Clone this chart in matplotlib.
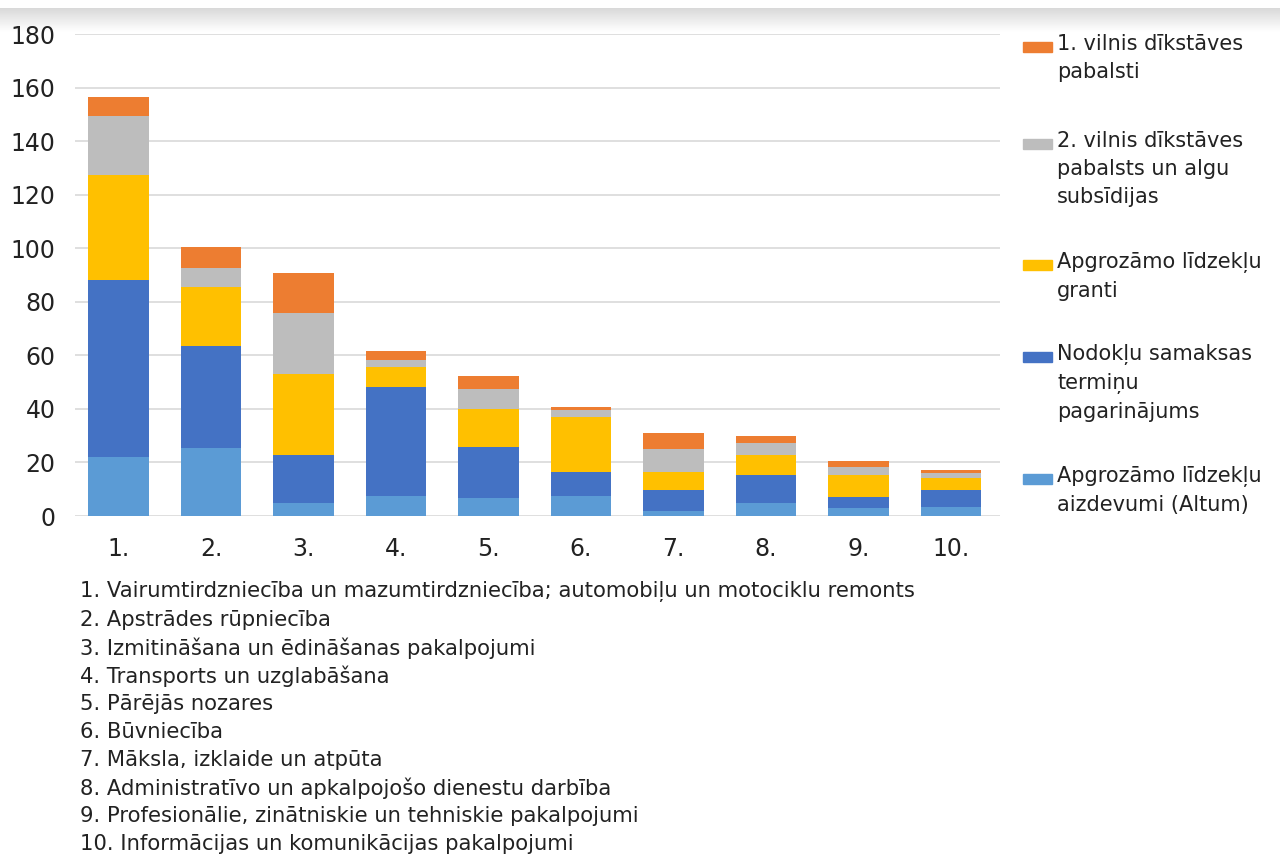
import numpy as np
import matplotlib.pyplot as plt
from matplotlib.patches import Rectangle

plt.rcParams['font.family'] = ['DejaVu Sans']

categories = ['1.', '2.', '3.', '4.', '5.', '6.', '7.', '8.', '9.', '10.']

# stacked from bottom to top
altum_loans = [22, 25.5, 4.7, 7.6, 6.6, 7.6, 2.0, 4.7, 2.9, 3.5]
tax_deferral = [66, 37.8, 18.1, 40.7, 19.3, 9.0, 7.7, 10.6, 4.3, 6.2]
grants = [39.5, 22.4, 30.3, 7.5, 14.0, 20.3, 6.9, 7.5, 8.1, 4.4]
wave2 = [22, 6.9, 22.6, 2.5, 7.4, 2.7, 8.3, 4.4, 3.1, 1.9]
wave1 = [7, 7.7, 15.0, 3.5, 5.0, 1.2, 6.2, 2.7, 2.1, 1.2]

series = [altum_loans, tax_deferral, grants, wave2, wave1]
colors = ['#5B9BD5', '#4472C4', '#FFC000', '#BDBDBD', '#ED7D31']
labels = ['Apgrozāmo līdzekļu\naizdevumi (Altum)',
          'Nodokļu samaksas\ntermiņu\npagarinājums',
          'Apgrozāmo līdzekļu\ngranti',
          '2. vilnis dīkstāves\npabalsts un algu\nsubsīdijas',
          '1. vilnis dīkstāves\npabalsti']

sectors = ['1. Vairumtirdzniecība un mazumtirdzniecība; automobiļu un motociklu remonts',
           '2. Apstrādes rūpniecība',
           '3. Izmitināšana un ēdināšanas pakalpojumi',
           '4. Transports un uzglabāšana',
           '5. Pārējās nozares',
           '6. Būvniecība',
           '7. Māksla, izklaide un atpūta',
           '8. Administratīvo un apkalpojošo dienestu darbība',
           '9. Profesionālie, zinātniskie un tehniskie pakalpojumi',
           '10. Informācijas un komunikācijas pakalpojumi']

fig = plt.figure(figsize=(12.8, 8.56), dpi=100)

# grey band at the top of the screenshot
band = fig.add_axes([0, 1 - 32 / 856, 1, 24 / 856])
grad = np.linspace(0.85, 1.0, 50).reshape(-1, 1)
band.imshow(grad, aspect='auto', cmap='gray', vmin=0, vmax=1,
            extent=[0, 1, 0, 1], origin='upper')
band.axis('off')

ax = fig.add_axes([75 / 1280, 1 - 516 / 856, 925 / 1280, 482 / 856])
x = np.arange(len(categories))
bottom = np.zeros(len(categories))
for vals, c in zip(series, colors):
    ax.bar(x, vals, width=0.65, bottom=bottom, color=c, zorder=3)
    bottom += np.array(vals)

ax.set_ylim(0, 180)
ax.set_xlim(-0.47, 9.53)
ax.set_yticks(range(0, 181, 20))
ax.set_xticks(x)
ax.set_xticklabels(categories)
ax.yaxis.grid(True, color='#D9D9D9', linewidth=1.2, zorder=0)
for s in ax.spines.values():
    s.set_visible(False)
ax.tick_params(length=0, labelsize=17, colors='#222222')
ax.tick_params(axis='y', pad=14)
ax.tick_params(axis='x', pad=15)

# legend, drawn top to bottom
leg_y = [47, 144, 265, 357, 479]
for lab, c, yy in zip(labels[::-1], colors[::-1], leg_y):
    fig.patches.append(Rectangle((1023 / 1280, 1 - (yy + 5) / 856), 29 / 1280, 10 / 856,
                                 color=c, transform=fig.transFigure))
    fig.text(1057 / 1280, 1 - (yy - 13) / 856, lab, fontsize=15, va='top',
             ha='left', color='#222222', linespacing=1.5)

for i, s in enumerate(sectors):
    fig.text(80 / 1280, 1 - (592 + 28 * i) / 856, s, fontsize=15.2, va='center',
             ha='left', color='#222222')

fig.savefig('out.png', dpi=100, facecolor='white')
